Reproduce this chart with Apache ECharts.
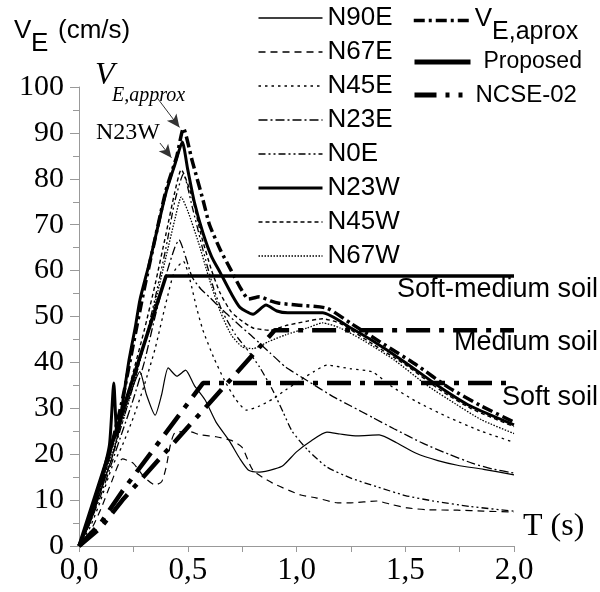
<!DOCTYPE html>
<html>
<head>
<meta charset="utf-8">
<script src="https://cdn.jsdelivr.net/npm/echarts@6/dist/echarts.min.js"></script>
<style>
  html, body { margin: 0; padding: 0; background: #fff; }
  #chart { width: 600px; height: 592px; }
</style>
</head>
<body>
<div id="chart"></div>
<script>
// Elastic input energy velocity spectra V_E(T) for the eight record components,
// the approximate envelope, the proposed design spectrum and NCSE-02 spectra.
const n90e = [[0,0],[0.05,5],[0.1,12],[0.15,19],[0.2,28],[0.25,35],[0.28,38],[0.31,33],[0.35,28.5],[0.38,33],[0.41,38.8],[0.45,37],[0.49,38.3],[0.53,35],[0.58,31.8],[0.63,27],[0.69,23],[0.74,19],[0.78,16.5],[0.83,16.1],[0.9,16.8],[0.94,17.6],[1.0,20.5],[1.07,23],[1.14,24.8],[1.2,24.4],[1.28,24],[1.38,24.2],[1.46,22.5],[1.55,20.2],[1.65,18.6],[1.74,17.6],[1.86,16.7],[2.0,15.5]];
const n67e = [[0,0],[0.05,3],[0.1,8],[0.15,14],[0.2,19],[0.25,18],[0.3,15],[0.35,13.3],[0.38,14],[0.4,17],[0.42,22],[0.44,24.6],[0.5,25],[0.56,24.2],[0.63,23.8],[0.7,23],[0.75,21.5],[0.8,16.5],[0.89,13.7],[1.02,11.1],[1.09,10.5],[1.19,9.4],[1.25,9.4],[1.37,9.8],[1.44,9],[1.51,8.3],[1.6,7.9],[1.74,7.8],[1.86,7.6],[2.0,7.4]];
const n45e = [[0,0],[0.05,4],[0.1,10],[0.15,17],[0.2,22],[0.25,28],[0.3,35],[0.35,43],[0.4,53],[0.44,60],[0.48,62],[0.51,58],[0.54,52],[0.57,47],[0.62,41],[0.67,36],[0.72,32],[0.77,29.6],[0.83,30.5],[0.89,32],[0.95,34],[1.02,36.2],[1.08,38],[1.14,39.4],[1.25,38.6],[1.35,37.9],[1.43,35],[1.55,31.5],[1.7,28],[1.85,25],[2.0,22.6]];
const n23e = [[0,0],[0.05,5],[0.1,11],[0.15,18],[0.2,25],[0.25,32],[0.3,40],[0.35,50],[0.4,59],[0.44,65],[0.46,66.7],[0.49,63],[0.52,58.6],[0.56,56],[0.6,54.2],[0.66,51.4],[0.74,48],[0.8,45.5],[0.88,42],[0.95,39],[1.05,36],[1.17,32.5],[1.25,30.5],[1.35,28],[1.45,25.5],[1.58,22.4],[1.7,20],[1.81,18],[1.9,16.8],[2.0,15.9]];
const n0e = [[0,0],[0.05,5],[0.1,12],[0.15,19],[0.2,27],[0.25,35],[0.3,44],[0.35,54],[0.4,65],[0.44,75],[0.48,81],[0.52,74],[0.57,64.5],[0.62,56],[0.66,51],[0.72,46],[0.77,43],[0.83,39],[0.89,34],[0.94,29],[0.98,25],[1.05,21],[1.14,17.2],[1.25,14.8],[1.37,12.9],[1.5,11],[1.63,9.8],[1.8,8.6],[2.0,7.6]];
const n23w = [[0,0],[0.05,6],[0.1,14],[0.14,22],[0.16,35.5],[0.175,24],[0.2,31],[0.23,40.5],[0.26,48],[0.28,53.6],[0.32,61],[0.35,67],[0.4,77],[0.44,83],[0.475,88],[0.5,82],[0.53,75],[0.57,68.2],[0.61,63],[0.65,59.5],[0.7,55],[0.74,52],[0.8,50.5],[0.86,52.5],[0.91,51.2],[0.96,50.8],[1.12,50.8],[1.25,47.5],[1.35,44.7],[1.5,40],[1.66,34.6],[1.8,30.5],[2.0,26.4]];
const n45w = [[0,0],[0.05,6],[0.1,13],[0.15,21],[0.2,29],[0.25,38],[0.3,47],[0.35,57],[0.4,68],[0.44,77],[0.47,82],[0.52,76],[0.56,68],[0.61,60],[0.65,55],[0.7,51],[0.75,49],[0.8,47.5],[0.88,47],[0.95,48],[1.05,49],[1.12,49.5],[1.2,48.5],[1.35,44],[1.5,39.5],[1.66,34],[1.8,30],[2.0,26]];
const n67w = [[0,0],[0.05,5],[0.1,12],[0.15,20],[0.2,27],[0.25,35],[0.3,44],[0.35,53],[0.4,63],[0.44,71],[0.47,76],[0.5,73],[0.55,66],[0.6,58],[0.65,51],[0.7,46],[0.75,43.4],[0.8,43],[0.87,44.5],[0.95,46],[1.05,47.5],[1.12,48.6],[1.2,47.5],[1.3,45],[1.45,40.5],[1.6,35],[1.73,31],[1.85,27.5],[2.0,24.5]];
const vApprox = [[0,0],[0.05,6],[0.1,13],[0.15,22],[0.2,32],[0.25,44],[0.3,56],[0.35,67],[0.4,77.5],[0.45,85],[0.48,91],[0.52,84],[0.57,75.4],[0.6,70],[0.65,64.5],[0.7,60],[0.74,56.4],[0.78,53.8],[0.83,54.3],[0.88,53.4],[0.92,52.9],[1.0,52.5],[1.14,51.8],[1.25,48.5],[1.4,44],[1.55,39.5],[1.7,34.5],[1.85,30.5],[2.0,27]];
const proposed = [[0,0],[0.4,58.8],[2.0,58.8]];
const ncseMedium = [[0,0],[0.1,4],[0.2,10],[0.9,47],[2.0,47]];
const ncseSoft = [[0,0],[0.1,5],[0.2,12],[0.57,35.5],[2.0,35.5]];

const SANS = 'Liberation Sans';
const SERIF = 'Liberation Serif';

function rec(name, data, width, dash, extra) {
  return Object.assign({
    name: name,
    type: 'line',
    data: data,
    symbol: 'none',
    smooth: 0.2,
    silent: true,
    lineStyle: { color: '#000', width: width, type: dash, cap: 'butt' },
    itemStyle: { color: '#000' },
    z: 3
  }, extra || {});
}

const chart = echarts.init(document.getElementById('chart'), null, { renderer: 'canvas' });

const legendText = { fontFamily: SANS, fontSize: 26, color: '#000', lineHeight: 26 };
// legend keys show only the line, no marker
const hiddenMarker = { opacity: 0 };

chart.setOption({
  animation: false,
  backgroundColor: '#fff',
  grid: { left: 79, right: 86, top: 87, bottom: 46 },
  xAxis: {
    type: 'value', min: 0, max: 2, interval: 0.5,
    axisLine: { show: true, lineStyle: { color: '#999', width: 1 } },
    axisTick: { show: true, length: 6, lineStyle: { color: '#999' } },
    minorTick: { show: true, splitNumber: 2, length: 6, lineStyle: { color: '#999' } },
    splitLine: { show: false },
    axisLabel: {
      formatter: v => v.toFixed(1).replace('.', ','),
      fontFamily: SERIF, fontSize: 31, color: '#000', margin: 9
    }
  },
  yAxis: {
    type: 'value', min: 0, max: 100, interval: 10,
    axisLine: { show: true, lineStyle: { color: '#999', width: 1 } },
    axisTick: { show: true, length: 9, lineStyle: { color: '#999' } },
    minorTick: { show: true, splitNumber: 2, length: 6, lineStyle: { color: '#999' } },
    splitLine: { show: false },
    axisLabel: { fontFamily: SERIF, fontSize: 30, color: '#000', margin: 15 }
  },
  legend: [
    {
      orient: 'vertical', left: 257, top: 5, padding: 0,
      itemWidth: 64, itemHeight: 14, itemGap: 8,
      itemStyle: hiddenMarker,
      lineStyle: { width: 1.3 },
      data: ['N90E', 'N67E', 'N45E', 'N23E', 'N0E',
        { name: 'N23W', lineStyle: { width: 3 } }, 'N45W', 'N67W'],
      textStyle: legendText, selectedMode: false
    },
    {
      orient: 'vertical', left: 412, top: 6, padding: 0,
      itemWidth: 56, itemHeight: 14,
      itemStyle: hiddenMarker,
      lineStyle: { width: 3.5 },
      data: ['V_E,aprox'], selectedMode: false,
      formatter: () => '{v|V}{s|E,aprox}',
      textStyle: {
        color: '#000',
        rich: {
          v: { fontFamily: SANS, fontSize: 26, color: '#000', padding: [0, 0, 3, 0] },
          s: { fontFamily: SANS, fontSize: 25, color: '#000', padding: [24, 0, 0, 0] }
        }
      }
    },
    {
      orient: 'vertical', left: 412, top: 50, padding: 0,
      itemWidth: 56, itemHeight: 14,
      itemStyle: hiddenMarker,
      lineStyle: { width: 5 },
      data: ['Proposed'], selectedMode: false,
      textStyle: { fontFamily: SANS, fontSize: 23, color: '#000', lineHeight: 24, padding: [0, 0, 0, 8] }
    },
    {
      orient: 'vertical', left: 412, top: 83, padding: 0,
      itemWidth: 56, itemHeight: 14,
      itemStyle: hiddenMarker,
      lineStyle: { width: 5, type: [22, 9, 4, 9, 4, 9] },
      data: ['NCSE-02'], selectedMode: false,
      textStyle: { fontFamily: SANS, fontSize: 24, color: '#000', lineHeight: 24 }
    }
  ],
  graphic: [
    // vertical axis title
    { type: 'text', left: 14, top: 18, style: { text: 'V', font: '26px ' + SANS, fill: '#000' } },
    { type: 'text', left: 31, top: 31, style: { text: 'E', font: '26px ' + SANS, fill: '#000' } },
    { type: 'text', left: 58, top: 18, style: { text: '(cm/s)', font: '26px ' + SANS, fill: '#000' } },
    // horizontal axis title
    { type: 'text', left: 523, top: 511, style: { text: 'T (s)', font: '32px ' + SERIF, fill: '#000' } },
    // peak annotations
    { type: 'text', left: 95, top: 60, style: { text: 'V', font: 'italic 32px ' + SERIF, fill: '#000' } },
    { type: 'text', left: 112, top: 86, style: { text: 'E,approx', font: 'italic 20px ' + SERIF, fill: '#000' } },
    { type: 'text', left: 96, top: 121, style: { text: 'N23W', font: '24px ' + SERIF, fill: '#000' } },
    // soil class labels
    { type: 'text', right: 2, top: 276, style: { text: 'Soft-medium soil', font: '27px ' + SANS, fill: '#000' } },
    { type: 'text', right: 2, top: 329, style: { text: 'Medium soil', font: '27px ' + SANS, fill: '#000' } },
    { type: 'text', right: 2, top: 384, style: { text: 'Soft soil', font: '27px ' + SANS, fill: '#000' } }
  ],
  series: [
    rec('N90E', n90e, 1.2, 'solid'),
    rec('N67E', n67e, 1.2, [7, 5]),
    rec('N45E', n45e, 1.3, [2.5, 4]),
    rec('N23E', n23e, 1.3, [9, 3, 2, 3]),
    rec('N0E', n0e, 1.3, [7, 3, 2, 3, 2, 3]),
    rec('N23W', n23w, 3, 'solid', {
      z: 5,
      markLine: {
        silent: true,
        symbol: ['none', 'arrow'],
        symbolSize: [9, 13],
        label: { show: false },
        lineStyle: { color: '#333', width: 1, type: 'solid' },
        emphasis: { disabled: true },
        data: [
          [{ coord: [0.36, 97.6] }, { coord: [0.462, 91.2] }],
          [{ coord: [0.372, 87.8] }, { coord: [0.425, 84.6] }]
        ]
      }
    }),
    rec('N45W', n45w, 1.4, [4, 3]),
    rec('N67W', n67w, 1.3, [1.5, 1.5]),
    rec('V_E,aprox', vApprox, 3.5, [11, 4, 3, 4], { z: 6 }),
    rec('Proposed', proposed, 3.5, 'solid', { smooth: false, z: 4 }),
    rec('NCSE-02', ncseMedium, 4.5, [24, 9, 5, 9], { smooth: false, z: 4 }),
    rec('NCSE-02', ncseSoft, 4.5, [24, 9, 5, 9], { smooth: false, z: 4 })
  ]
});
</script>
</body>
</html>
